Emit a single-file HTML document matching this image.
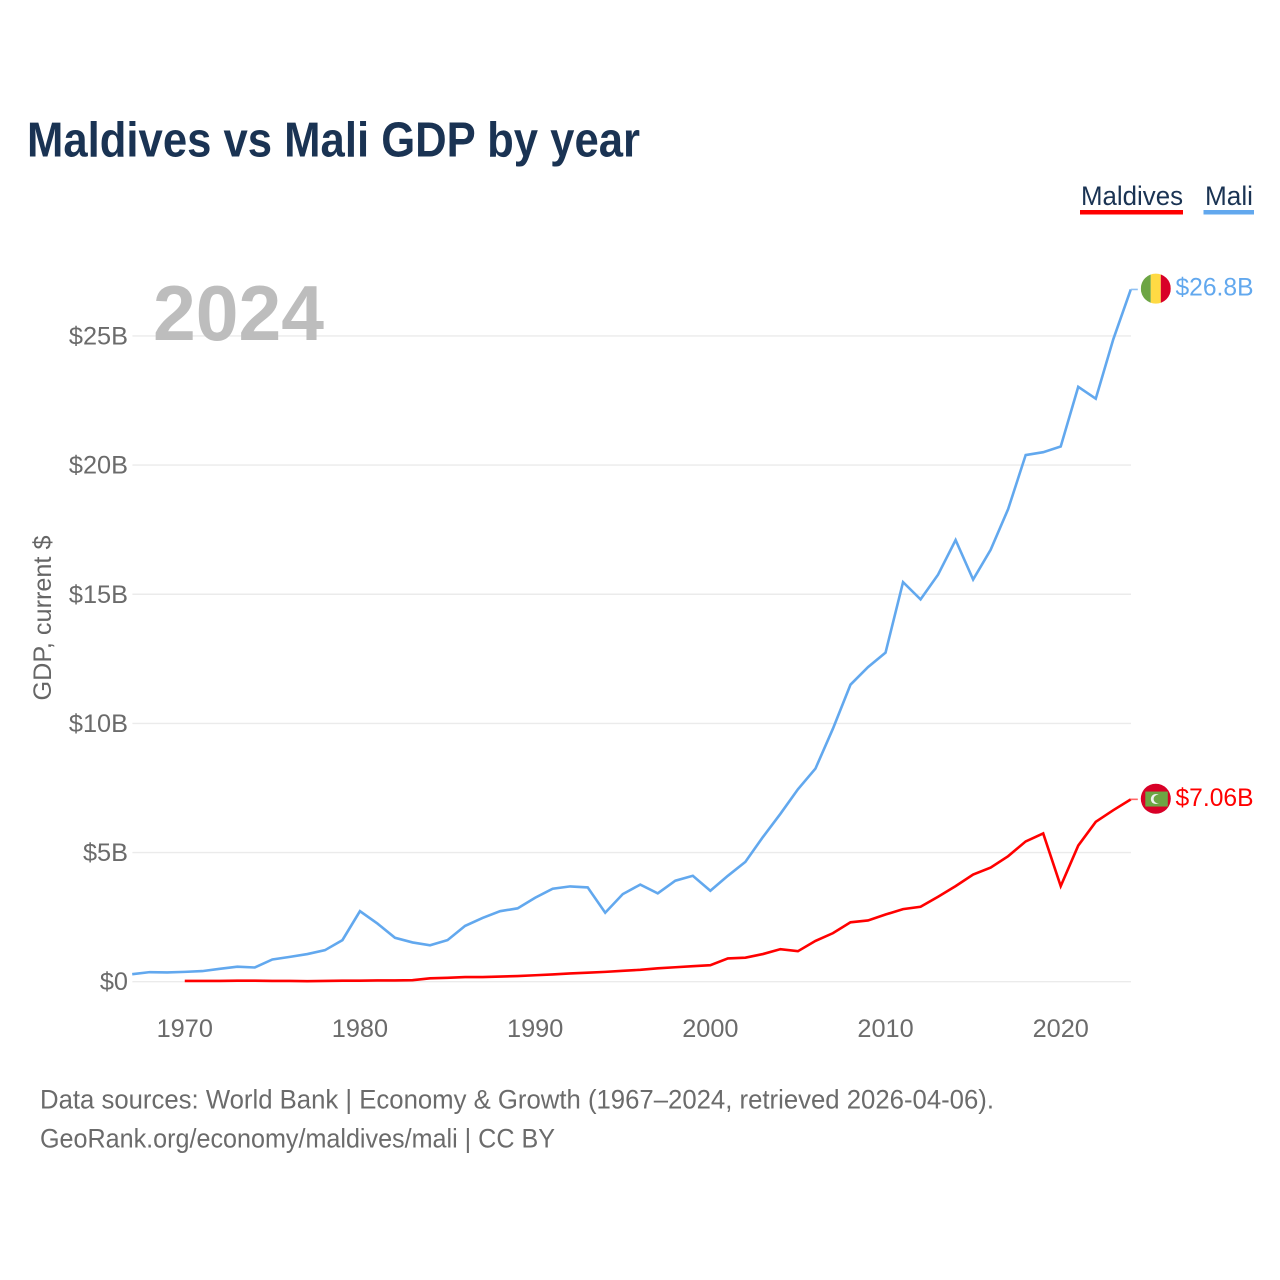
<!DOCTYPE html>
<html lang="en">
<head>
<meta charset="utf-8">
<title>Maldives vs Mali GDP by year</title>
<style>
html,body{margin:0;padding:0;background:#fff;width:1280px;height:1280px;overflow:hidden}
svg{display:block}
text{font-family:"Liberation Sans",sans-serif}
</style>
</head>
<body>
<svg id="chart" xmlns="http://www.w3.org/2000/svg" width="1280" height="1280" viewBox="0 0 1280 1280">
  <rect x="0" y="0" width="1280" height="1280" fill="#ffffff"/>
  <text x="27" y="156.5" font-size="49" font-weight="bold" fill="#1a3353" textLength="613" lengthAdjust="spacingAndGlyphs">Maldives vs Mali GDP by year</text>
  <g id="grid"></g>
  <text x="153" y="340" font-size="78" font-weight="bold" fill="#bdbdbd" textLength="171" lengthAdjust="spacingAndGlyphs">2024</text>
  <g id="yticks"></g>
  <g id="xticks"></g>
  <text transform="translate(51,618) rotate(-90)" text-anchor="middle" font-size="25" fill="#666666" textLength="165" lengthAdjust="spacingAndGlyphs">GDP, current $</text>
  <g id="series"></g>
  <g>
    <g>
      <text x="1081" y="205" font-size="26.5" fill="#1a3353" textLength="102" lengthAdjust="spacingAndGlyphs">Maldives</text>
      <rect x="1080" y="210" width="103" height="4.5" fill="#ff0000"/>
    </g>
    <g>
      <text x="1205" y="205" font-size="26.5" fill="#1a3353" textLength="48" lengthAdjust="spacingAndGlyphs">Mali</text>
      <rect x="1203.5" y="210" width="50.5" height="4.5" fill="#62a8ee"/>
    </g>
  </g>
  <text x="40" y="1108.5" font-size="26.5" fill="#6b6b6b" textLength="954" lengthAdjust="spacingAndGlyphs">Data sources: World Bank | Economy &amp; Growth (1967–2024, retrieved 2026-04-06).</text>
  <text x="40" y="1147.5" font-size="26.5" fill="#6b6b6b" textLength="515" lengthAdjust="spacingAndGlyphs">GeoRank.org/economy/maldives/mali | CC BY</text>
</svg>
<script>
const maliYears = [1967,1968,1969,1970,1971,1972,1973,1974,1975,1976,1977,1978,1979,1980,1981,1982,1983,1984,1985,1986,1987,1988,1989,1990,1991,1992,1993,1994,1995,1996,1997,1998,1999,2000,2001,2002,2003,2004,2005,2006,2007,2008,2009,2010,2011,2012,2013,2014,2015,2016,2017,2018,2019,2020,2021,2022,2023,2024];
const maliValues = [0.29,0.37,0.36,0.38,0.41,0.50,0.58,0.55,0.86,0.96,1.07,1.22,1.61,2.73,2.25,1.70,1.52,1.41,1.61,2.16,2.47,2.73,2.84,3.25,3.60,3.69,3.65,2.67,3.39,3.76,3.42,3.91,4.10,3.52,4.10,4.64,5.60,6.50,7.45,8.25,9.80,11.50,12.18,12.74,15.47,14.80,15.76,17.10,15.57,16.72,18.30,20.39,20.50,20.72,23.03,22.57,24.87,26.80];
const maldivesYears = [1970,1971,1972,1973,1974,1975,1976,1977,1978,1979,1980,1981,1982,1983,1984,1985,1986,1987,1988,1989,1990,1991,1992,1993,1994,1995,1996,1997,1998,1999,2000,2001,2002,2003,2004,2005,2006,2007,2008,2009,2010,2011,2012,2013,2014,2015,2016,2017,2018,2019,2020,2021,2022,2023,2024];
const maldivesValues = [0.03,0.03,0.03,0.04,0.04,0.03,0.03,0.02,0.03,0.04,0.04,0.05,0.05,0.06,0.13,0.15,0.18,0.18,0.20,0.22,0.25,0.28,0.32,0.35,0.38,0.42,0.46,0.52,0.56,0.60,0.64,0.90,0.93,1.07,1.26,1.18,1.58,1.88,2.30,2.37,2.60,2.81,2.90,3.29,3.70,4.15,4.42,4.86,5.43,5.74,3.70,5.27,6.19,6.64,7.06];
const yTickValues = [0,5,10,15,20,25];
const yTickLabels = ["$0","$5B","$10B","$15B","$20B","$25B"];
const xTickValues = [1970,1980,1990,2000,2010,2020];
const xTickLabels = ["1970","1980","1990","2000","2010","2020"];
const maliEndLabel = "$26.8B";
const maldivesEndLabel = "$7.06B";

const NS = "http://www.w3.org/2000/svg";
const xScale = function (year) { return 132.2 + (year - 1967) * (1130.8 - 132.2) / 57; };
const yScale = function (v) { return 981.7 - v * 25.83; };
function make(tag, parent) {
  const el = document.createElementNS(NS, tag);
  parent.appendChild(el);
  return el;
}
function put(el, attrs) {
  for (const k in attrs) el.setAttribute(k, attrs[k]);
  return el;
}
const grid = document.getElementById("grid");
const yticks = document.getElementById("yticks");
const xticks = document.getElementById("xticks");
const series = document.getElementById("series");
const root = document.getElementById("chart");

yTickValues.forEach(function (v, i) {
  const line = make("line", grid);
  
  
  put(line, {x1: 132.4, x2: 1131, y1: yScale(v), y2: yScale(v), stroke: "#ebebeb", "stroke-width": 1.4});
  const t = make("text", yticks);
  
  
  put(t, {x: 128, y: yScale(v) + 8.5, "text-anchor": "end", "font-size": 25.3, fill: "#6b6b6b"});
  t.textContent = yTickLabels[i];
});
xTickValues.forEach(function (v, i) {
  const t = make("text", xticks);
  
  
  put(t, {x: xScale(v), y: 1037, "text-anchor": "middle", "font-size": 25.3, fill: "#6b6b6b"});
  t.textContent = xTickLabels[i];
});
function pathFor(years, values) {
  return years.map(function (y, i) {
    return (i ? "L" : "M") + xScale(y).toFixed(2) + " " + yScale(values[i]).toFixed(2);
  }).join(" ");
}
const maliLine = make("path", series);


put(maliLine, {d: pathFor(maliYears, maliValues), fill: "none", stroke: "#62a8ee", "stroke-width": 2.6, "stroke-linejoin": "miter"});
const maldivesLine = make("path", series);


put(maldivesLine, {d: pathFor(maldivesYears, maldivesValues), fill: "none", stroke: "#ff0000", "stroke-width": 2.6, "stroke-linejoin": "miter"});

const maliEndX = xScale(maliYears[maliYears.length - 1]);
const maliEndY = yScale(maliValues[maliValues.length - 1]);
const maldivesEndX = xScale(maldivesYears[maldivesYears.length - 1]);
const maldivesEndY = yScale(maldivesValues[maldivesValues.length - 1]);

const maliLeader = make("line", series);


put(maliLeader, {x1: maliEndX, x2: maliEndX + 7, y1: maliEndY, y2: maliEndY, stroke: "#8fc0f3", "stroke-width": 1.6});
const maldivesLeader = make("line", series);


put(maldivesLeader, {x1: maldivesEndX, x2: maldivesEndX + 7, y1: maldivesEndY, y2: maldivesEndY, stroke: "#ff6666", "stroke-width": 1.6});

/* Mali flag */
const defs = make("defs", root);
const clip = make("clipPath", defs);
put(clip, {id: "mali-clip"});
put(make("circle", clip), {cx: maliEndX + 25, cy: maliEndY - 0.8, r: 15});
const maliFlag = make("g", root);


put(maliFlag, {"clip-path": "url(#mali-clip)"});
put(make("rect", maliFlag), {x: maliEndX + 10, y: maliEndY - 16, width: 10, height: 31, fill: "#6da544"});
put(make("rect", maliFlag), {x: maliEndX + 20, y: maliEndY - 16, width: 10, height: 31, fill: "#ffda44"});
put(make("rect", maliFlag), {x: maliEndX + 30, y: maliEndY - 16, width: 10, height: 31, fill: "#d80027"});

/* Maldives flag */
const mvFlag = make("g", root);


put(make("circle", mvFlag), {cx: maldivesEndX + 25, cy: maldivesEndY - 0.6, r: 15, fill: "#d80027"});
put(make("rect", mvFlag), {x: maldivesEndX + 14.5, y: maldivesEndY - 7.8, width: 22.5, height: 15, fill: "#6da544"});
put(make("circle", mvFlag), {cx: maldivesEndX + 25, cy: maldivesEndY - 0.3, r: 5, fill: "#f0f0f0"});
put(make("circle", mvFlag), {cx: maldivesEndX + 27, cy: maldivesEndY - 0.3, r: 4.2, fill: "#6da544"});

const maliText = make("text", root);


put(maliText, {x: 1175.5, y: maliEndY + 6, "font-size": 25.3, fill: "#62a8ee", textLength: 78, lengthAdjust: "spacingAndGlyphs"});
maliText.textContent = maliEndLabel;
const maldivesText = make("text", root);


put(maldivesText, {x: 1175.5, y: maldivesEndY + 6.5, "font-size": 25.3, fill: "#ff0000", textLength: 78, lengthAdjust: "spacingAndGlyphs"});
maldivesText.textContent = maldivesEndLabel;
</script>
</body>
</html>
